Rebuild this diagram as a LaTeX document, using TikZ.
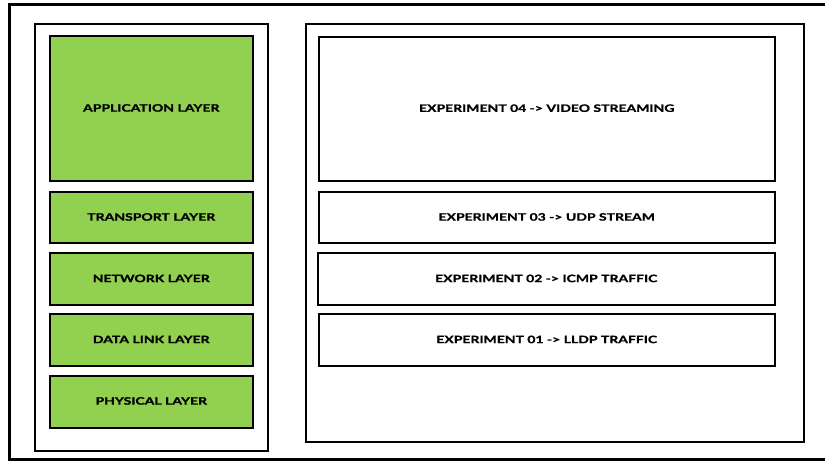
\documentclass[tikz,border=0pt]{standalone}
\usepackage{fontspec}
\setmainfont{Lato}[FakeStretch=1.37, BoldFeatures={FakeBold=1.2}]
\definecolor{lgreen}{HTML}{92D050}
\tikzset{
  panel/.style={draw=black, line width=2pt, fill=white},
  layerbox/.style={draw=black, line width=2pt, fill=lgreen},
  expbox/.style={draw=black, line width=2pt, fill=white},
  lbl/.style={font=\bfseries\fontsize{10.2}{12}\selectfont, yshift=0.8pt}
}
\begin{document}
\begin{tikzpicture}[x=1pt,y=-1pt]
\useasboundingbox (0,0) rectangle (825,462);
\draw[line width=3pt] (9,4.5) rectangle (830,459.5);
\node[panel, anchor=north west, minimum width=232.5pt, minimum height=427pt, inner sep=0pt] (left) at (34,23) {};
\node[panel, anchor=north west, minimum width=498.5pt, minimum height=418pt, inner sep=0pt] (right) at (304.5,23) {};
% layers
\node[layerbox, anchor=north west, minimum width=203.5pt, minimum height=144.5pt, inner sep=0pt] (app) at (48.5,35.5) {};
\node[lbl] at (app.center) {APPLICATION LAYER};
\node[layerbox, anchor=north west, minimum width=203.5pt, minimum height=50.5pt, inner sep=0pt] (trans) at (48.5,191.5) {};
\node[lbl] at (trans.center) {TRANSPORT LAYER};
\node[layerbox, anchor=north west, minimum width=203.5pt, minimum height=51.5pt, inner sep=0pt] (net) at (48.5,252.5) {};
\node[lbl] at (net.center) {NETWORK LAYER};
\node[layerbox, anchor=north west, minimum width=203.5pt, minimum height=51.5pt, inner sep=0pt] (dl) at (48.5,313.5) {};
\node[lbl] at (dl.center) {DATA LINK LAYER};
\node[layerbox, anchor=north west, minimum width=203.5pt, minimum height=51.5pt, inner sep=0pt] (phy) at (48.5,375) {};
\node[lbl] at (phy.center) {PHYSICAL LAYER};
% experiments
\node[expbox, anchor=north west, minimum width=456.5pt, minimum height=144pt, inner sep=0pt] (e4) at (317.5,36) {};
\node[lbl] at (e4.center) {EXPERIMENT 04 -> VIDEO STREAMING};
\node[expbox, anchor=north west, minimum width=456.5pt, minimum height=50.5pt, inner sep=0pt] (e3) at (317.5,191.5) {};
\node[lbl] at (e3.center) {EXPERIMENT 03 -> UDP STREAM};
\node[expbox, anchor=north west, minimum width=457.5pt, minimum height=51.5pt, inner sep=0pt] (e2) at (316.5,252.5) {};
\node[lbl] at (e2.center) {EXPERIMENT 02 -> ICMP TRAFFIC};
\node[expbox, anchor=north west, minimum width=456.5pt, minimum height=51.5pt, inner sep=0pt] (e1) at (317.5,313.5) {};
\node[lbl] at (e1.center) {EXPERIMENT 01 -> LLDP TRAFFIC};
\end{tikzpicture}
\end{document}
